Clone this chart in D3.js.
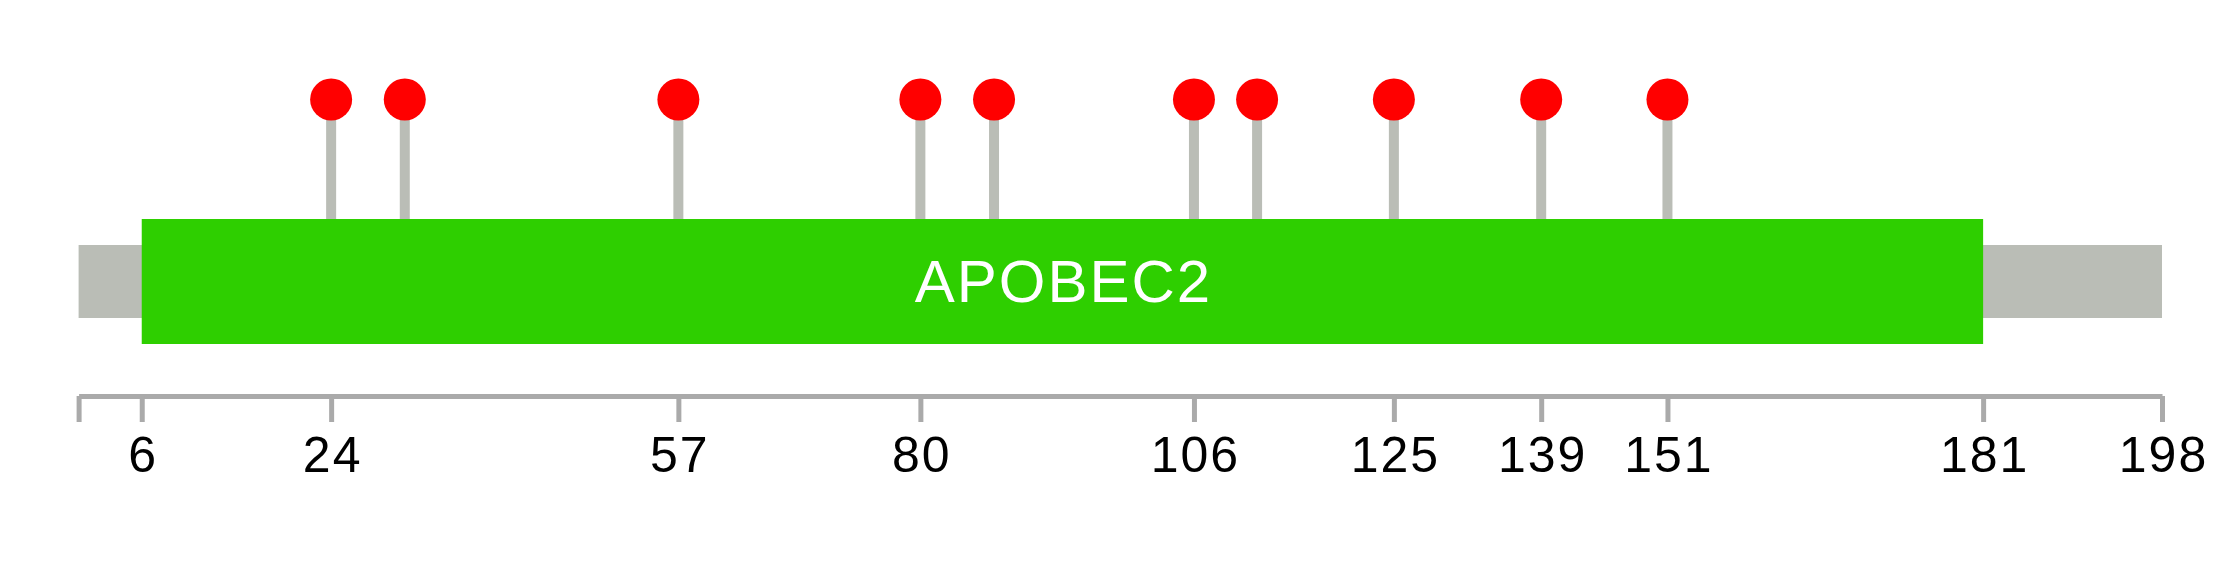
<!DOCTYPE html>
<html><head><meta charset="utf-8">
<script src="https://cdn.jsdelivr.net/npm/d3@7"></script>
<style>html,body{margin:0;padding:0;background:#fff;}svg{display:block;}</style>
</head><body>
<svg id="chart" width="2239" height="578"></svg>
<script>
const proteinLength = 198;
const domainName = ["APOBEC2"];
const domainStart = [6];
const domainEnd = [181];
const mutationPositions = [24, 31, 57, 80, 87, 106, 112, 125, 139, 151];
const tickValues = [0, 6, 24, 57, 80, 106, 125, 139, 151, 181, 198];
const tickLabels = ["", "6", "24", "57", "80", "106", "125", "139", "151", "181", "198"];

const svg = d3.select("#chart");
const x = d3.scaleLinear().domain([0, proteinLength]).range([78.6, 2162]);

const font = "'Liberation Sans', Arial, sans-serif";

// backbone
svg.append("rect")
  .attr("x", x(0)).attr("y", 245)
  .attr("width", x(proteinLength) - x(0)).attr("height", 73)
  .attr("fill", "#babdb6");

// stems
svg.selectAll("line.stem").data(mutationPositions).enter().append("line")
  .attr("class", "stem")
  .attr("x1", d => x(d)).attr("x2", d => x(d))
  .attr("y1", 99).attr("y2", 220)
  .attr("stroke", "#babdb6").attr("stroke-width", 10);

// domain
const domains = domainName.map((n, i) => ({name: n, start: domainStart[i], end: domainEnd[i]}));
svg.selectAll("rect.dom").data(domains).enter().append("rect")
  .attr("class", "dom")
  .attr("x", d => x(d.start)).attr("y", 219)
  .attr("width", d => x(d.end) - x(d.start)).attr("height", 125)
  .attr("fill", "#2ecf00");
svg.selectAll("text.dom").data(domains).enter().append("text")
  .attr("class", "dom")
  .attr("x", d => (x(d.start) + x(d.end)) / 2 + 1).attr("y", 302)
  .attr("text-anchor", "middle")
  .attr("font-family", font).attr("font-size", 60)
  .attr("letter-spacing", 2)
  .attr("fill", "#ffffff")
  .text(d => d.name);

// heads
svg.selectAll("circle.mut").data(mutationPositions).enter().append("circle")
  .attr("class", "mut")
  .attr("cx", d => x(d)).attr("cy", 99.5).attr("r", 21)
  .attr("fill", "#ff0000");

// axis
const axis = d3.axisBottom(x)
  .tickValues(tickValues)
  .tickFormat((d, i) => tickLabels[i])
  .tickSizeInner(26).tickSizeOuter(0).tickPadding(14);
const g = svg.append("g").attr("transform", "translate(0,396)").call(axis);
g.select(".domain").attr("stroke", "#aaaaaa").attr("stroke-width", 5);
g.selectAll(".tick line").attr("stroke", "#aaaaaa").attr("stroke-width", 5);
g.selectAll(".tick text").attr("fill", "#000").attr("font-family", font).attr("font-size", 50)
  .attr("letter-spacing", 2).attr("dx", 1);
</script>
</body></html>
